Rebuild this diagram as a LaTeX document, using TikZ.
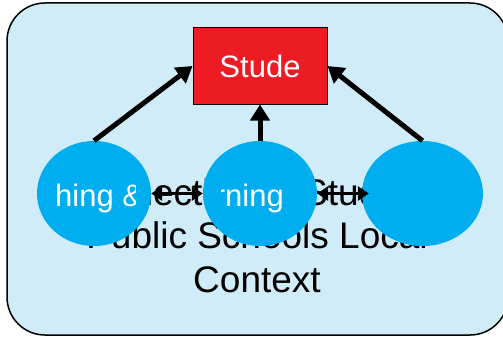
\documentclass[tikz,border=0pt]{standalone}
\usepackage{fontspec}
\setmainfont{Liberation Sans}
\usetikzlibrary{shapes.geometric,arrows.meta}
\definecolor{paneblue}{RGB}{208,236,248}
\definecolor{cyanfill}{RGB}{0,174,239}
\definecolor{boxred}{RGB}{237,28,36}

\begin{document}
\begin{tikzpicture}[x=1pt, y=-1pt,
  vbubble/.style={ellipse, fill=cyanfill, minimum width=114pt, minimum height=105pt, inner sep=0pt},
  wlabel/.style={text=white, font=\fontsize{31}{36}\selectfont, inner sep=0pt},
  feed/.style={line width=5pt, -{Triangle[length=16pt,width=19pt]}},
  link/.style={line width=3.5pt, {Triangle[length=11pt,width=14pt]}-{Triangle[length=11pt,width=14pt]}}
]
  \useasboundingbox (0,0) rectangle (503,337);
  % background panel
  \draw[line width=1.5pt, fill=paneblue, rounded corners=38pt] (7,3) rectangle (508,335);
  \node[font=\fontsize{37}{43.5}\selectfont, align=center, anchor=base, inner sep=0pt] (ctx) at (257,292)
    {Connection of Students\\Public Schools Local\\Context};

  \node[draw, line width=1pt, fill=boxred, minimum width=134pt, minimum height=76pt,
        inner sep=0pt, text=white, font=\fontsize{31}{36}\selectfont] (outcome) at (260,66) {Stude};

  \node[vbubble] (c1) at (94,193.5) {};
  \node[vbubble] (c2) at (260,193.5) {};
  \node[vbubble, minimum width=121pt] (c3) at (422.5,193.5) {};

  % labels cut off at the bubble's text box
  \begin{scope}
    \clip (50,150) rectangle (135,230);
    \node[wlabel, anchor=base west] (c1lbl) at (55,206) {hing \&};
  \end{scope}
  \begin{scope}
    \clip (221,150) rectangle (300,230);
    \node[wlabel, anchor=base west] (c2lbl) at (214.7,206) {rning};
  \end{scope}

  \draw[feed] (c1.north) -- (outcome.west);
  \draw[feed] (c2.north) -- (outcome.south);
  \draw[feed] (c3.north) -- (outcome.east);

  \draw[link] (c1.east) -- (c2.west);
  \draw[link, shorten >=-7pt] (c2.east) -- (c3.west);
\end{tikzpicture}
\end{document}
